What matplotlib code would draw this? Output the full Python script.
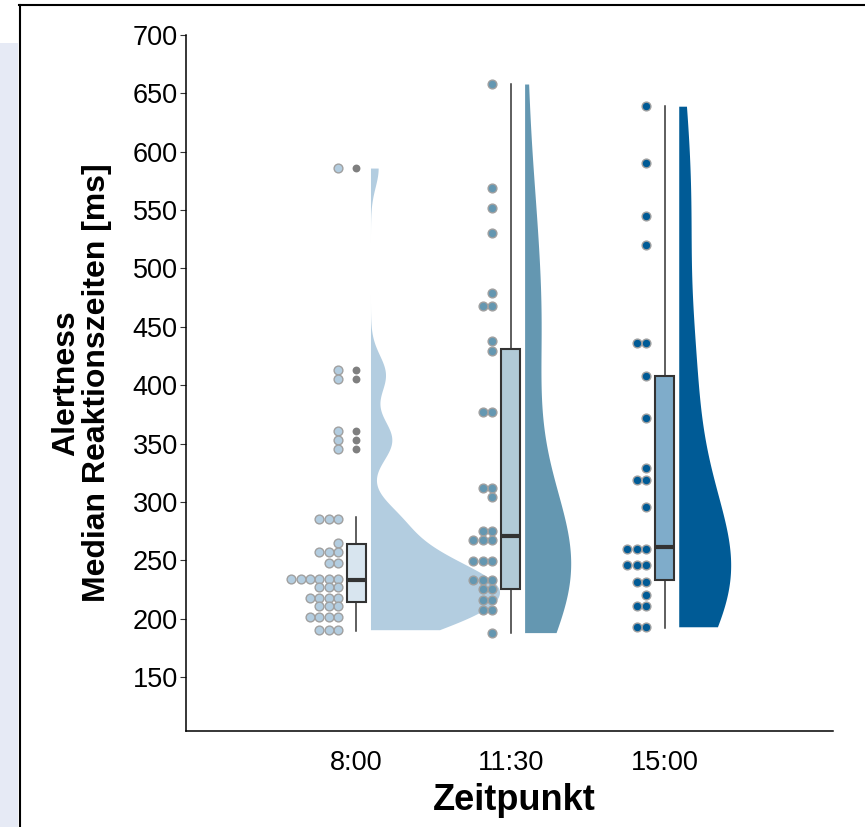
import numpy as np
import matplotlib
matplotlib.use("Agg")
import matplotlib.pyplot as plt
from matplotlib.colors import to_rgba
from matplotlib.lines import Line2D
from matplotlib.patches import Rectangle

plt.rcParams["font.family"] = ["Liberation Sans", "DejaVu Sans"]

zeitpunkte = ["8:00", "11:30", "15:00"]
farben = ["#b3cde0", "#6497b1", "#005b96"]

# Punktwerte (ms) und Anzahl gestapelter Punkte je Zeile
werte_0800 = [586, 413, 405, 361, 353, 345, 285, 265, 257, 248, 234, 227, 218, 211, 201, 190.5]
anzahl_0800 = [1, 1, 1, 1, 1, 1, 3, 1, 3, 2, 6, 3, 4, 3, 4, 3]
werte_1130 = [658, 569, 552, 530, 479, 468, 438, 429, 377, 312, 304, 275, 267, 249, 233, 225, 216, 207, 188]
anzahl_1130 = [1, 1, 1, 1, 1, 2, 1, 1, 2, 2, 1, 2, 3, 3, 3, 2, 2, 2, 1]
werte_1500 = [639, 590, 545, 520, 436, 408, 372, 329, 319, 296, 260, 246, 231, 220, 211, 193]
anzahl_1500 = [1, 1, 1, 1, 2, 1, 1, 1, 2, 1, 3, 3, 2, 1, 2, 2]

# Boxplot-Kennwerte
box_whislo = [189.5, 188, 192]
box_q1 = [214, 225, 233]
box_med = [233, 271, 261]
box_q3 = [263.5, 431, 408]
box_whishi = [287, 658, 639]
ausreisser_0800 = [586, 413, 405, 361, 353, 345]

# Violinen: Bandbreiten-Faktor und maximale Breite (x-Einheiten)
bw_faktor = [1.0, 1.0, 0.9]
violin_breite = [0.837, 0.299, 0.337]

werte = [werte_0800, werte_1130, werte_1500]
anzahl = [anzahl_0800, anzahl_1130, anzahl_1500]


def dichte(daten, grid, adjust=1.0):
    # Gauss-KDE mit Bandbreite nach bw.nrd0
    n = len(daten)
    sd = np.std(daten, ddof=1)
    q75, q25 = np.percentile(daten, [75, 25])
    bw = adjust * 0.9 * min(sd, (q75 - q25) / 1.34) * n ** -0.2
    z = (grid[:, None] - daten[None, :]) / bw
    return np.exp(-0.5 * z ** 2).sum(axis=1) / (n * bw * np.sqrt(2 * np.pi))


fig = plt.figure(figsize=(8.65, 8.27), dpi=100)
fig.patches.append(Rectangle((0, 0), 18 / 865, (827 - 43) / 827, transform=fig.transFigure,
                             facecolor="#e6eaf5", edgecolor="none", zorder=0))
fig.lines.append(Line2D([19.5 / 865, 19.5 / 865], [0, 1 - 5 / 827], transform=fig.transFigure,
                        color="black", lw=1.5))
fig.lines.append(Line2D([19 / 865, 1], [1 - 5 / 827, 1 - 5 / 827], transform=fig.transFigure,
                        color="black", lw=1.5))

ax = fig.add_axes([186 / 865, 1 - 731 / 827, (833 - 186) / 865, (731 - 35) / 827])

# Halb-Violinen
for i in range(3):
    d = np.repeat(werte[i], anzahl[i]).astype(float)
    g = np.linspace(d.min(), d.max(), 512)
    dd = dichte(d, g, bw_faktor[i])
    x0 = i + 1 + 0.091
    ax.fill_betweenx(g, x0, x0 + dd / dd.max() * violin_breite[i], color=farben[i], lw=0, zorder=1)

# Boxplots
stats = []
for i in range(3):
    stats.append({"whislo": box_whislo[i], "q1": box_q1[i], "med": box_med[i],
                  "q3": box_q3[i], "whishi": box_whishi[i], "fliers": []})
bp = ax.bxp(stats, positions=[1, 2, 3], widths=0.123, patch_artist=True, showcaps=False,
            showfliers=False, manage_ticks=False,
            boxprops=dict(edgecolor="#333333", linewidth=1.5),
            medianprops=dict(color="#333333", linewidth=3, solid_capstyle="butt"),
            whiskerprops=dict(color="#333333", linewidth=1.1))
for i, box in enumerate(bp["boxes"]):
    box.set_facecolor(to_rgba(farben[i], 0.5))
    box.set_zorder(3)
for el in bp["whiskers"] + bp["medians"]:
    el.set_zorder(3)

ax.scatter(np.ones(len(ausreisser_0800)), ausreisser_0800, s=32, color="#7f7f7f",
           linewidths=0, zorder=4)

# gestapelte Punkte links der Boxen
for i in range(3):
    xs, ys = [], []
    for w, a in zip(werte[i], anzahl[i]):
        for k in range(a):
            xs.append(i + 1 - 0.121 - k * 0.0604)
            ys.append(w)
    ax.scatter(xs, ys, s=40, color=farben[i], edgecolors="#a0a0a0", linewidths=1.0, zorder=5)

ax.set_xlim(-0.106, 4.092)
ax.set_ylim(103.7, 700)
ax.set_yticks(np.arange(150, 701, 50))
ax.set_xticks([1, 2, 3])
ax.set_xticklabels(zeitpunkte)
for s in ["top", "right"]:
    ax.spines[s].set_visible(False)
for s in ["left", "bottom"]:
    ax.spines[s].set_linewidth(1.1)
ax.tick_params(axis="y", length=4, width=0.8, color="#333333", labelsize=19.5, pad=2)
ax.tick_params(axis="x", length=0, labelsize=19.5, pad=14)

fig.text(81.5 / 865, 1 - 383 / 827, "Alertness\nMedian Reaktionszeiten [ms]", rotation=90,
         ha="center", va="center", multialignment="center", fontsize=23,
         fontweight="bold", linespacing=1.05)
fig.text(514 / 865, 1 - 801 / 827, "Zeitpunkt", ha="center", va="center", fontsize=26,
         fontweight="bold")

fig.savefig("out.png", dpi=100)
